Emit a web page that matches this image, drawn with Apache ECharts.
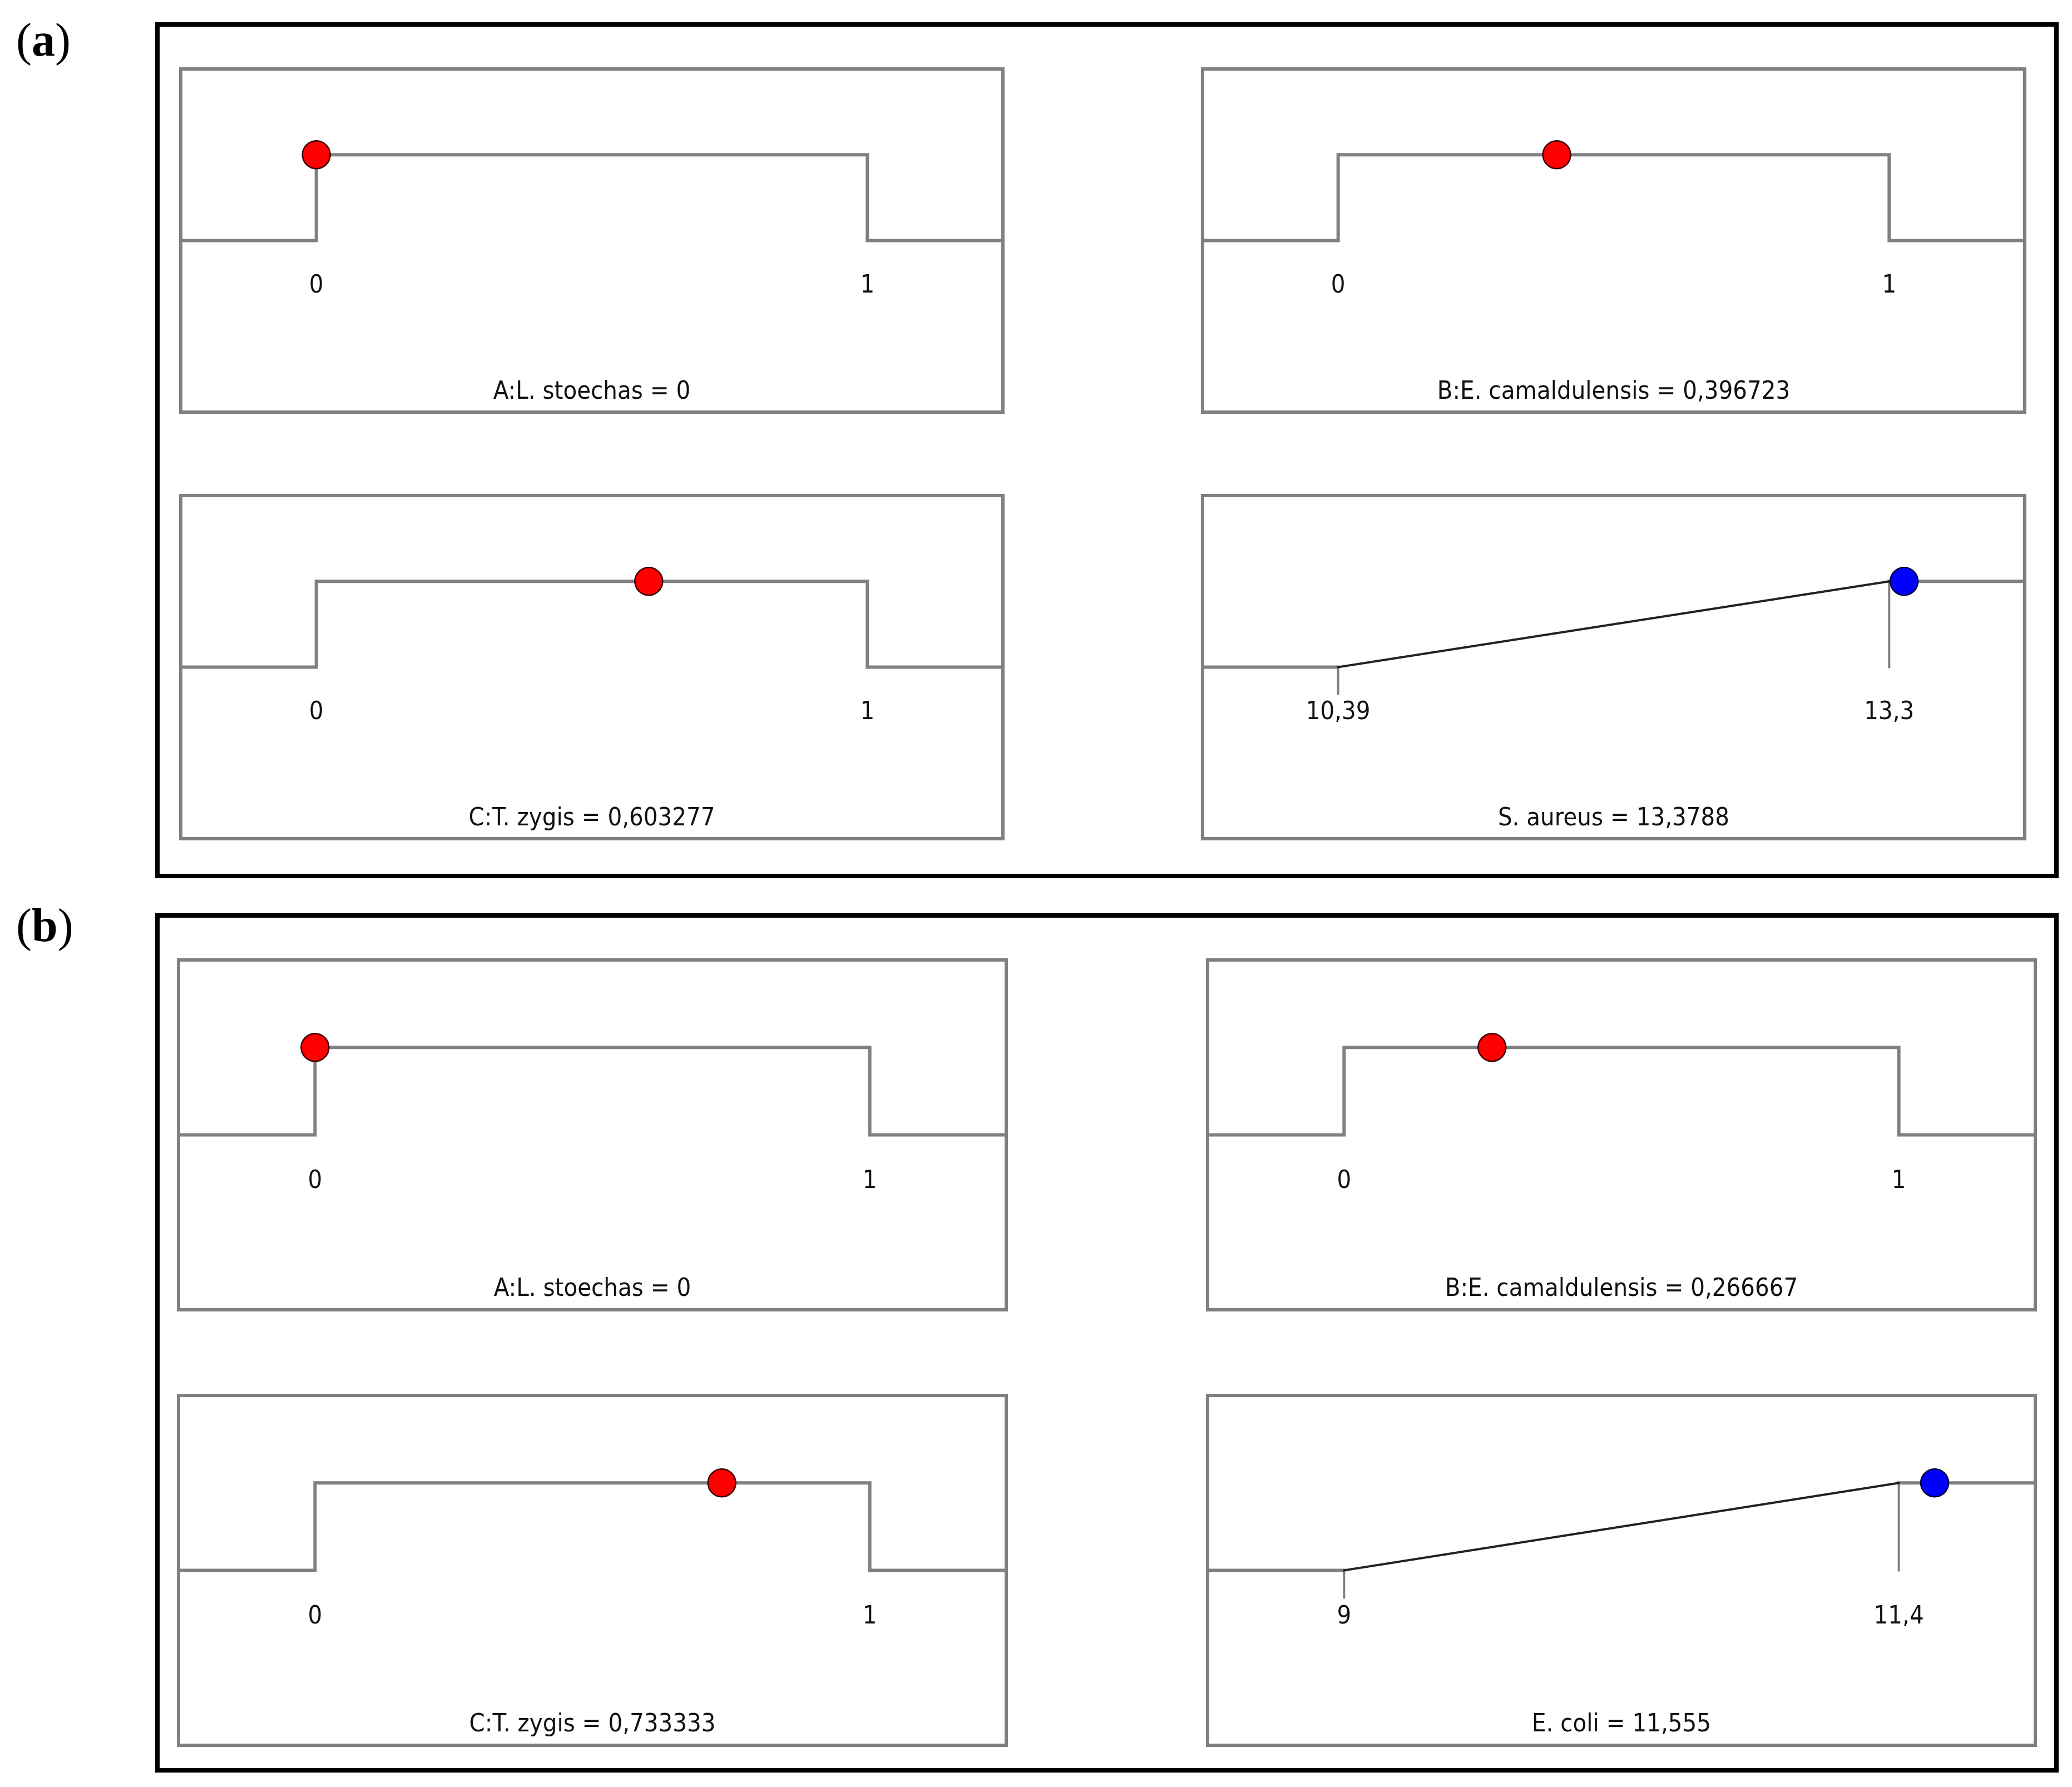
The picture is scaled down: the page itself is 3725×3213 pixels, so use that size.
<!DOCTYPE html>
<html><head><meta charset="utf-8">
<script src="https://cdn.jsdelivr.net/npm/echarts@6/dist/echarts.min.js"></script>
<style>html,body{margin:0;padding:0;background:#fff}#c{width:3725px;height:3213px}</style>
</head><body><div id="c"></div><script>
// ---- data ----
const panelLabels = ['a', 'b'];
const factorNames = ['A:L. stoechas', 'B:E. camaldulensis', 'C:T. zygis'];
const factorLow = [0, 0, 0];
const factorHigh = [1, 1, 1];
const factorValuesA = [0, 0.396723, 0.603277];
const factorValuesB = [0, 0.266667, 0.733333];
const factorValues = [factorValuesA, factorValuesB];
const responseNames = ['S. aureus', 'E. coli'];
const responseLow = [10.39, 9];
const responseHigh = [13.3, 11.4];
const responseValues = [13.3788, 11.555];

// ---- layout / style ----
const FONT = "'DejaVu Sans Condensed','Liberation Sans Narrow',sans-serif";
const FS = 45;
const GREY = '#808080';
const PAD = 0.246;
const blocks = [
  {cols: [325, 2162], w: 1478, rows: [124, 891], h: 617, box: [283, 44, 3697, 1575], labelY: 78},
  {cols: [321, 2171], w: 1488, rows: [1726, 2509], h: 629, box: [283, 1646, 3697, 3183], labelY: 1670}
];
const fmt = v => String(v).replace('.', ',');

const grids = [], xAxes = [], yAxes = [], series = [], graphics = [];
let gi = 0;

function addPanel(block, row, col, lo, hi, title, build) {
  const unit = block.h / 4;
  grids.push({left: block.cols[col], top: block.rows[row], width: block.w, height: block.h,
    show: true, borderColor: GREY, borderWidth: 6, backgroundColor: 'transparent',
    outerBoundsMode: 'none', containLabel: false});
  const span = hi - lo;
  const xmin = lo - PAD * span, xmax = hi + PAD * span;
  xAxes.push({gridIndex: gi, type: 'value', min: xmin, max: xmax, position: 'bottom',
    offset: -Math.round(2 * unit),
    axisLine: {show: false, onZero: false}, axisTick: {show: false}, splitLine: {show: false},
    axisLabel: {customValues: [lo, hi], formatter: fmt, margin: Math.round(0.49 * unit - FS / 2 + 7),
      fontSize: FS, color: '#111', fontFamily: FONT},
    name: title, nameLocation: 'middle', nameGap: Math.round(1.76 * unit - FS / 2 + 2),
    nameMoveOverlap: false,
    nameTextStyle: {fontSize: FS, color: '#111', fontFamily: FONT}});
  yAxes.push({gridIndex: gi, type: 'value', min: -2, max: 2, show: false});
  build(gi, xmin, xmax);
  gi++;
}

function lineS(idx, data, color, width, z) {
  series.push({type: 'line', xAxisIndex: idx, yAxisIndex: idx, data: data, symbol: 'none',
    lineStyle: {color: color, width: width, cap: 'square', join: 'miter'}, z: z || 2, silent: true, animation: false});
}
function dotS(idx, x, y, color, border) {
  series.push({type: 'scatter', xAxisIndex: idx, yAxisIndex: idx, data: [[x, y]], symbolSize: 50,
    itemStyle: {color: color, borderColor: border, borderWidth: 2.5, opacity: 1}, z: 5, animation: false});
}

blocks.forEach((block, b) => {
  const pos = [[0, 0], [0, 1], [1, 0]];
  factorNames.forEach((name, i) => {
    const lo = factorLow[i], hi = factorHigh[i], v = factorValues[b][i];
    addPanel(block, pos[i][0], pos[i][1], lo, hi, name + ' = ' + fmt(v), (idx, xmin, xmax) => {
      lineS(idx, [[xmin, 0], [lo, 0], [lo, 1], [hi, 1], [hi, 0], [xmax, 0]], GREY, 6);
      dotS(idx, v, 1, '#ff0000', '#3a0000');
    });
  });
  const lo = responseLow[b], hi = responseHigh[b], v = responseValues[b];
  const d = Math.max(0, Math.min(1, (v - lo) / (hi - lo)));
  addPanel(block, 1, 1, lo, hi, responseNames[b] + ' = ' + fmt(v), (idx, xmin, xmax) => {
    lineS(idx, [[xmin, 0], [lo, 0]], GREY, 6);
    lineS(idx, [[hi, 1], [xmax, 1]], GREY, 6);
    lineS(idx, [[lo, 0], [lo, -0.31]], GREY, 4);
    lineS(idx, [[hi, 1], [hi, 0]], GREY, 4);
    lineS(idx, [[lo, 0], [hi, 1]], '#222', 4, 3);
    dotS(idx, v, d, '#0000ff', '#00003a');
  });
  const bx = block.box;
  graphics.push({type: 'rect', shape: {x: bx[0], y: bx[1], width: bx[2] - bx[0], height: bx[3] - bx[1]},
    style: {fill: 'none', stroke: '#000', lineWidth: 8}, z: 10});
  graphics.push({type: 'text', x: 29, y: block.labelY, z: 10,
    style: {text: '{p|(}{b|' + panelLabels[b] + '}{p|)}', verticalAlign: 'middle', align: 'left',
      rich: {p: {fontSize: 84, fontFamily: "'Liberation Serif',serif", fill: '#000'},
             b: {fontSize: 84, fontFamily: "'Liberation Serif',serif", fontWeight: 'bold', fill: '#000'}}}});
});

const chart = echarts.init(document.getElementById('c'), null, {renderer: 'canvas'});
chart.setOption({backgroundColor: '#fff', animation: false, grid: grids, xAxis: xAxes, yAxis: yAxes,
  series: series, graphic: graphics});
</script></body></html>
